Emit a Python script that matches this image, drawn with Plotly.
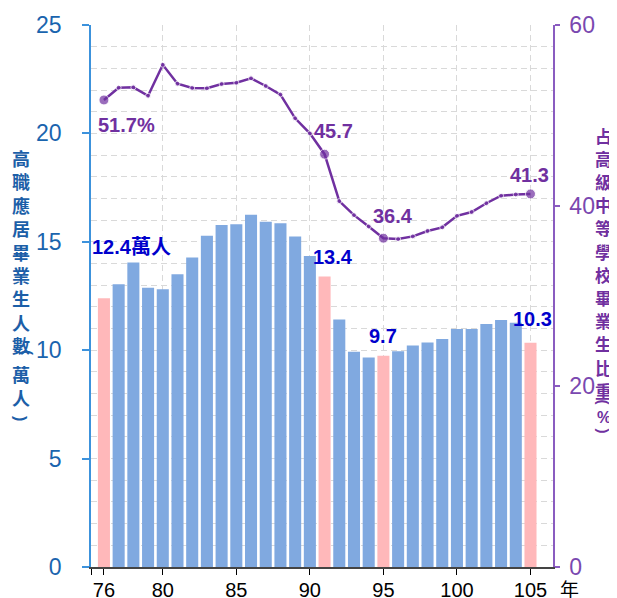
import plotly.graph_objects as go

# ---------------- data ----------------
years = list(range(76, 106))
graduates = [12.4, 13.04, 14.05, 12.88, 12.81, 13.5, 14.28, 15.28, 15.77, 15.81,
             16.25, 15.93, 15.85, 15.24, 14.35, 13.4, 11.42, 9.93, 9.66, 9.74,
             9.95, 10.22, 10.35, 10.52, 10.98, 10.98, 11.21, 11.39, 11.27, 10.34]
share = [51.7, 53.06, 53.1, 52.17, 55.6, 53.5, 53.03, 52.99, 53.47, 53.6,
         54.1, 53.25, 52.3, 49.67, 48.0, 45.7, 40.5, 38.95, 37.7, 36.4,
         36.3, 36.6, 37.2, 37.6, 38.87, 39.3, 40.27, 41.1, 41.24, 41.3]
highlight_years = [76, 91, 95, 105]
x_tick_vals = [76, 80, 85, 90, 95, 100, 105]
x_grid_vals = [80, 85, 90, 95, 100, 105]
left_title = "高職應居畢業生人數"
left_title2 = "萬人"
right_title = "占高級中等學校畢業生比重"

# ---------------- style ----------------
OFF = 8  # default page body margin
W, H = 617 - OFF, 598 - OFF
ML, MR, MT, MB = 83, 64, 17, 31
PW, PH = W - ML - MR, H - MT - MB
XR = [75.12, 106.53]

BAR_BLUE = "#80A9E0"
BAR_PINK = "#FFB8BA"
PURPLE = "#7030A0"
LBL_BLUE = "#0000CC"
L_TICK = "#1A64AE"
L_LINE = "#3C92DC"
L_TITLE = "#1C5FA8"
R_TICK = "#7A48B0"
R_LINE = "#8A5CC0"
GRID = "#D9D9D9"
NUM_FONT = "Liberation Sans, Arial, sans-serif"
CJK_FONT = "Noto Sans CJK TC, Noto Sans CJK SC, sans-serif"


def px(x):
    return (x - OFF - ML) / PW


def py(y):
    return (H - MB - (y - OFF)) / PH


bar_colors = [BAR_PINK if y in highlight_years else BAR_BLUE for y in years]
marker_sizes = [10 if y in highlight_years else 5 for y in years]

fig = go.Figure()
fig.add_trace(go.Bar(x=years, y=graduates, marker=dict(color=bar_colors, line=dict(width=0)),
                     width=0.82, xaxis="x", yaxis="y", hoverinfo="skip"))
fig.add_trace(go.Scatter(x=years, y=share, mode="lines+markers",
                         line=dict(color=PURPLE, width=2.5),
                         marker=dict(size=marker_sizes, color=PURPLE),
                         xaxis="x2", yaxis="y2", hoverinfo="skip"))

annotations = []


def ann(**kw):
    kw.setdefault("showarrow", False)
    kw.setdefault("xanchor", "center")
    kw.setdefault("yanchor", "middle")
    annotations.append(kw)


def idx(y):
    return years.index(y)


# value labels on line (right axis)
line_label_specs = [(76, 23, -25.5, "%"), (91, 9, 23, ""), (95, 9.5, 22.6, ""), (105, -1.5, 19, "")]
for yr, xs, ys, suf in line_label_specs:
    ann(x=yr, y=share[idx(yr)], xref="x2", yref="y2",
        text=f"<b>{share[idx(yr)]:.1f}{suf}</b>", xshift=xs, yshift=ys,
        font=dict(family=NUM_FONT, size=20, color=PURPLE))

# value labels on bars (left axis)
bar_label_specs = [(76, 27.5, 51, "萬人"), (91, 8, 19, ""), (95, 0, 20, ""), (105, 1.5, 24, "")]
for yr, xs, ys, suf in bar_label_specs:
    ann(x=yr, y=graduates[idx(yr)], xref="x", yref="y",
        text=f"<b>{graduates[idx(yr)]:.1f}{suf}</b>", xshift=xs, yshift=ys,
        font=dict(family=NUM_FONT + ", " + CJK_FONT, size=20, color=LBL_BLUE))

# left axis title (vertical stacked characters)
ann(x=px(20.7), y=py(251.5), xref="paper", yref="paper",
    text="<b>" + "<br>".join(left_title) + "</b>",
    font=dict(family=CJK_FONT, size=18, color=L_TITLE))
ann(x=px(20.7), y=py(385), xref="paper", yref="paper",
    text="<b>" + "<br>".join(left_title2) + "</b>",
    font=dict(family=CJK_FONT, size=18, color=L_TITLE))
ann(x=px(27), y=py(352), xref="paper", yref="paper", textangle=90,
    text="<b>(</b>", font=dict(family=NUM_FONT, size=15, color=L_TITLE))
ann(x=px(21), y=py(418), xref="paper", yref="paper", textangle=90,
    text="<b>)</b>", font=dict(family=NUM_FONT, size=16, color=L_TITLE))

# right axis title: one character per row
RX = 603.5
for i, ch in enumerate(right_title):
    ann(x=px(RX), y=py(135 + 23.2 * i), xref="paper", yref="paper",
        text=f"<b>{ch}</b>", font=dict(family=CJK_FONT, size=17, color=PURPLE))
ann(x=px(RX), y=py(402), xref="paper", yref="paper", textangle=90,
    text="<b>(</b>", font=dict(family=NUM_FONT, size=15, color=PURPLE))
ann(x=px(RX), y=py(417), xref="paper", yref="paper",
    text="<b>%</b>", font=dict(family=NUM_FONT, size=16, color=PURPLE))
ann(x=px(RX), y=py(431), xref="paper", yref="paper", textangle=90,
    text="<b>)</b>", font=dict(family=NUM_FONT, size=15, color=PURPLE))

# x unit
ann(x=px(569), y=py(588), xref="paper", yref="paper", text="年",
    font=dict(family=CJK_FONT, size=19, color="#000000"))

fig.update_layout(
    width=W, height=H,
    margin=dict(l=ML, r=MR, t=MT, b=MB, pad=0),
    paper_bgcolor="white", plot_bgcolor="white",
    showlegend=False,
    xaxis=dict(range=XR, tickmode="array", tickvals=[XR[0]] + x_tick_vals,
               ticktext=[""] + [str(v) for v in x_tick_vals],
               ticks="outside", ticklen=6, tickwidth=1, tickcolor="#000000",
               showline=True, linecolor="#444444", linewidth=1.5,
               showgrid=False, zeroline=False, automargin=False, ticklabelstandoff=-2,
               tickfont=dict(family=NUM_FONT, size=20, color="#000000")),
    xaxis2=dict(range=XR, overlaying="x", anchor="y2", tickmode="array", tickvals=x_grid_vals,
                showticklabels=False, ticks="", showline=False, automargin=False,
                showgrid=True, gridcolor=GRID, gridwidth=1, griddash="6px,4px", zeroline=False),
    yaxis=dict(range=[0, 25], tickmode="linear", tick0=0, dtick=5,
               ticks="outside", ticklen=7, tickwidth=1.5, tickcolor=L_LINE,
               showline=True, linecolor=L_LINE, linewidth=1.5,
               showgrid=True, gridcolor=GRID, gridwidth=1, griddash="6px,4px",
               minor=dict(dtick=1, showgrid=True, gridcolor=GRID, gridwidth=1, griddash="6px,4px"),
               zeroline=False, ticklabelstandoff=16, automargin=False,
               tickfont=dict(family=NUM_FONT, size=23, color=L_TICK)),
    yaxis2=dict(range=[0, 60], tickmode="linear", tick0=0, dtick=20, overlaying="y", side="right",
                anchor="x2", ticks="outside", ticklen=5, tickwidth=1.5, tickcolor=R_LINE,
                showline=True, linecolor=R_LINE, linewidth=1.5, automargin=False,
                showgrid=False, zeroline=False, ticklabelstandoff=5,
                tickfont=dict(family=NUM_FONT, size=23, color=R_TICK)),
    annotations=annotations,
)

fig.write_html("out.html")
